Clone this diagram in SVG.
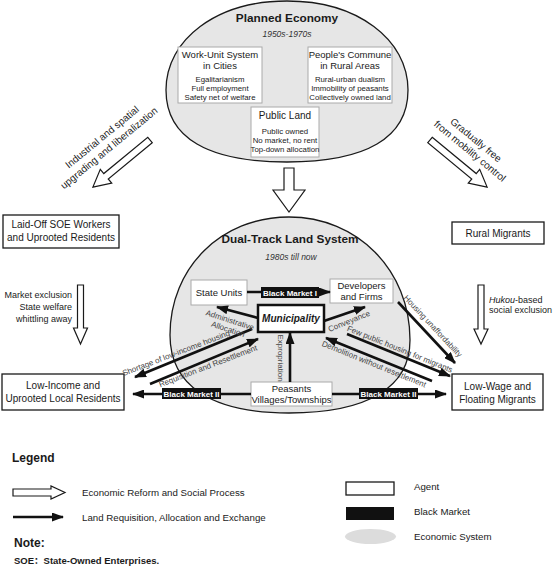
<svg xmlns="http://www.w3.org/2000/svg" width="553" height="573" viewBox="0 0 553 573">
<defs>
<style>
text{font-family:"Liberation Sans",Arial,"Noto Sans CJK SC",sans-serif;fill:#1a1a1a}
.sys{fill:#e6e6e6;stroke:#1a1a1a;stroke-width:1.3}
.inner{fill:#fff;stroke:#aaa;stroke-width:1}
.agent{fill:#fff;stroke:#1a1a1a;stroke-width:1.3}
.hollow{fill:#fff;stroke:#1a1a1a;stroke-width:1.2}
.conn{stroke:#111;stroke-width:2.6;fill:none;marker-end:url(#ah)}
.bm{fill:#111}
.bmt{fill:#fff;font-weight:bold;font-size:8px;text-anchor:middle}
.lbl{font-size:8px;fill:#444;text-anchor:middle}
.c{text-anchor:middle}
.h1{font-weight:bold;font-size:11.8px;text-anchor:middle}
.yr{font-style:italic;font-size:8.5px;text-anchor:middle;fill:#333}
.bt{font-size:9.5px;text-anchor:middle}
.sm{font-size:7.8px;text-anchor:middle}
.ag{font-size:10px;text-anchor:middle}
.side{font-size:9px}
.leg{font-size:9.7px}
</style>
<marker id="ah" viewBox="0 0 12 9" refX="11" refY="4.5" markerWidth="12" markerHeight="9" markerUnits="userSpaceOnUse" orient="auto">
<path d="M0,0 L12,4.5 L0,9 Z" fill="#111"/>
</marker>
</defs>

<g id="planned-economy">
<path class="sys" d="M166,90 C166,39.3 216.8,1 287,1 C357.2,1 408,39.3 408,90 C408,138.1 365.7,162 287,162 C208.3,162 166,138.1 166,90 Z"/>
<text class="h1" x="287" y="22">Planned Economy</text>
<text class="yr" x="287" y="37">1950s-1970s</text>
</g>
<g id="work-unit">
<rect class="inner" x="178" y="47" width="84" height="56"/>
<text class="bt" x="220" y="58">Work-Unit System</text>
<text class="bt" x="220" y="69">in Cities</text>
<text class="sm" x="220" y="82">Egalitarianism</text>
<text class="sm" x="220" y="91">Full employment</text>
<text class="sm" x="220" y="100">Safety net of welfare</text>
</g>
<g id="peoples-commune">
<rect class="inner" x="308" y="47" width="84" height="56"/>
<text class="bt" x="350" y="58">People's Commune</text>
<text class="bt" x="350" y="69">in Rural Areas</text>
<text class="sm" x="350" y="82">Rural-urban dualism</text>
<text class="sm" x="350" y="91">Immobility of peasants</text>
<text class="sm" x="350" y="100">Collectively owned land</text>
</g>
<g id="public-land">
<rect class="inner" x="251" y="107" width="68" height="50"/>
<text class="c" font-size="10" x="285" y="119">Public Land</text>
<text class="sm" x="285" y="134">Public owned</text>
<text class="sm" x="285" y="143">No market, no rent</text>
<text class="sm" x="285" y="152">Top-down allocation</text>
</g>

<g id="dual-track">
<path class="sys" d="M170,335 C170,267.7 221.2,217 289,217 C357.2,217 410,269.9 410,340 C410,387.5 367.7,413 289,413 C211.4,413 170,385.7 170,335 Z"/>
<text class="h1" x="290" y="243">Dual-Track Land System</text>
<text class="yr" x="291" y="260">1980s till now</text>
</g>
<g id="state-units">
<rect class="inner" x="191" y="280" width="56" height="25"/>
<text class="bt" x="219" y="296">State Units</text>
</g>
<g id="developers">
<rect class="inner" x="330" y="279" width="63" height="24"/>
<text class="bt" x="361.5" y="289">Developers</text>
<text class="bt" x="361.5" y="300">and Firms</text>
</g>
<g id="municipality">
<rect x="258" y="305" width="66" height="27" fill="#fff" stroke="#111" stroke-width="2.5"/>
<text x="291" y="322" font-size="10" font-weight="bold" font-style="italic" text-anchor="middle">Municipality</text>
</g>
<g id="peasants">
<rect class="inner" x="251" y="382" width="81" height="24"/>
<text class="bt" x="291.5" y="392">Peasants</text>
<text class="bt" x="291.5" y="403">Villages/Townships</text>
</g>

<g id="laid-off">
<rect class="agent" x="3" y="215" width="116" height="33"/>
<text class="ag" x="61" y="228">Laid-Off SOE Workers</text>
<text class="ag" x="61" y="241">and Uprooted Residents</text>
</g>
<g id="rural-migrants">
<rect class="agent" x="452" y="222" width="92" height="22"/>
<text class="ag" x="498" y="236.5">Rural Migrants</text>
</g>
<g id="low-income">
<rect class="agent" x="2" y="374" width="122" height="36"/>
<text class="ag" x="63" y="389">Low-Income and</text>
<text class="ag" x="63" y="402">Uprooted Local Residents</text>
</g>
<g id="low-wage">
<rect class="agent" x="452" y="374" width="91" height="36"/>
<text class="ag" x="497.5" y="390">Low-Wage and</text>
<text class="ag" x="497.5" y="403">Floating Migrants</text>
</g>

<g id="connectors">
<polygon class="hollow" points="284,168 294,168 294,190 305,190 289,212 273,190 284,190"/>
<polygon class="hollow" transform="translate(150,140) rotate(140.5)" points="0,-3.5 57,-3.5 57,-9 74,0 57,9 57,3.5 0,3.5"/>
<polygon class="hollow" transform="translate(430,140) rotate(39.5)" points="0,-3.5 57,-3.5 57,-9 74,0 57,9 57,3.5 0,3.5"/>
<polygon class="hollow" points="77.5,285 83.5,285 83.5,328 87.5,328 80.5,344 73.5,328 77.5,328"/>
<polygon class="hollow" points="478,285 484,285 484,329 488,329 481,344 474,329 478,329"/>
<line class="conn" x1="247" y1="292" x2="330" y2="292"/>
<line class="conn" x1="258" y1="318" x2="217" y2="307"/>
<line class="conn" x1="324" y1="321" x2="365" y2="307"/>
<line class="conn" x1="290" y1="382" x2="290" y2="333"/>
<line class="conn" x1="252" y1="329" x2="135" y2="377"/>
<line class="conn" x1="150" y1="384" x2="258" y2="339"/>
<line class="conn" x1="347" y1="334" x2="450" y2="376"/>
<line class="conn" x1="432" y1="381" x2="326" y2="338"/>
<line class="conn" x1="398" y1="302" x2="455" y2="363"/>
<line class="conn" x1="251" y1="394" x2="133" y2="394"/>
<line class="conn" x1="332" y1="394" x2="446" y2="394"/>
</g>

<g id="black-market-1">
<rect class="bm" x="261" y="287" width="58" height="11"/>
<text class="bmt" x="290" y="295.5">Black Market I</text>
</g>
<g id="black-market-2-left">
<rect class="bm" x="162" y="388" width="59" height="11"/>
<text class="bmt" x="191.5" y="396.8">Black Market II</text>
</g>
<g id="black-market-2-right">
<rect class="bm" x="359" y="388" width="59" height="11"/>
<text class="bmt" x="388.5" y="396.8">Black Market II</text>
</g>

<g id="labels">
<text font-size="10" text-anchor="middle" transform="translate(102,137) rotate(-39.5)" y="3.5">Industrial and spatial</text>
<text font-size="10" text-anchor="middle" transform="translate(109,148) rotate(-39.5)" y="3.5">upgrading and liberalization</text>
<text font-size="10" text-anchor="middle" transform="translate(476,140) rotate(39.5)" y="3.5">Gradually free</text>
<text font-size="10" text-anchor="middle" transform="translate(470,151) rotate(39.5)" y="3.5">from mobility control</text>
<text class="side" text-anchor="end" x="72" y="298">Market exclusion</text>
<text class="side" text-anchor="end" x="72" y="310">State welfare</text>
<text class="side" text-anchor="end" x="72" y="322">whittling away</text>
<text class="side" x="489" y="303"><tspan font-style="italic">Hukou</tspan>-based</text>
<text class="side" x="489" y="313">social exclusion</text>
<text class="lbl" transform="translate(230,320) rotate(18)" y="2.8">Administrative</text>
<text class="lbl" transform="translate(228,329) rotate(18)" y="2.8">Allocation</text>
<text class="lbl" transform="translate(349,321) rotate(-22)" y="2.8">Conveyance</text>
<text class="lbl" transform="translate(281,358) rotate(90)" y="2.8">Expropriation</text>
<text class="lbl" transform="translate(176,353) rotate(-21)" y="2.8">Shortage of low-income housing</text>
<text class="lbl" transform="translate(208,366) rotate(-21)" y="2.8">Requisition and Resettlement</text>
<text class="lbl" transform="translate(400,349) rotate(22)" y="2.8">Few public housing for migrants</text>
<text class="lbl" transform="translate(374,364) rotate(22)" y="2.8">Demolition without resettlement</text>
<text class="lbl" transform="translate(433,326) rotate(47)" y="2.8">Housing unaffordability</text>
</g>

<g id="legend">
<text x="12" y="462" font-size="12" font-weight="bold">Legend</text>
<polygon class="hollow" points="13,489 51,489 51,486 65,492.5 51,499 51,496 13,496"/>
<text class="leg" x="82" y="496">Economic Reform and Social Process</text>
<line class="conn" x1="13" y1="517" x2="63" y2="517"/>
<text class="leg" x="82" y="521">Land Requisition, Allocation and Exchange</text>
<rect class="agent" x="346" y="482" width="48" height="13"/>
<text class="leg" x="414" y="490">Agent</text>
<rect class="bm" x="346" y="507" width="48" height="13"/>
<text class="leg" x="414" y="515">Black Market</text>
<ellipse cx="370.5" cy="536.5" rx="25.5" ry="7.5" fill="#dcdcdc"/>
<text class="leg" x="414" y="540">Economic System</text>
<text x="14" y="547" font-size="12" font-weight="bold">Note:</text>
<text x="14" y="564" font-size="9.5" font-weight="bold">SOE：State-Owned Enterprises.</text>
</g>
</svg>
